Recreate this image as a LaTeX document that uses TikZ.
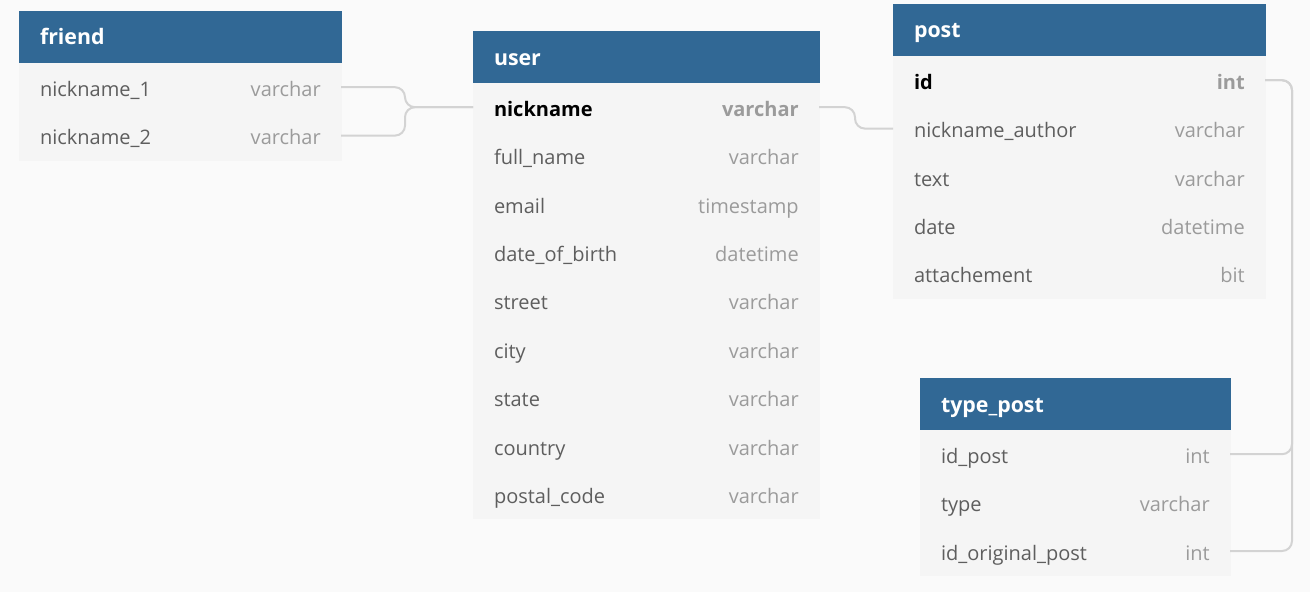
\documentclass[tikz,border=0pt]{standalone}
\usepackage{fontspec}
\setmainfont{Open Sans}
\usetikzlibrary{positioning}
\definecolor{headblue}{HTML}{316895}
\definecolor{rowgray}{HTML}{F5F5F5}
\definecolor{pagegray}{HTML}{FAFAFA}
\definecolor{namegray}{HTML}{5E5E5E}
\definecolor{typegray}{HTML}{9B9B9B}
\definecolor{linkgray}{HTML}{D3D3D3}

\begin{document}
\begin{tikzpicture}[x=0.75pt,y=-0.75pt,
	every node/.style={font=\fontsize{15}{18}\selectfont,text height=15pt,text depth=1.5pt},
	tablehead/.style={fill=headblue,draw=headblue,line width=0.4pt,outer sep=0pt,text=white,font=\fontsize{16}{19}\selectfont\bfseries,text height=13.5pt,text depth=1.5pt,minimum height=39pt,inner xsep=15.75pt,text width=#1,align=left,anchor=north west},
	field/.style={fill=rowgray,draw=rowgray,line width=0.4pt,outer sep=0pt,text=namegray,minimum height=36.3pt,inner xsep=15.75pt,text width=#1,align=left},
	fieldtype/.style={anchor=east,text=typegray,inner xsep=15pt},
	keyfield/.style={text=black,font=\fontsize{15}{18}\selectfont\bfseries},
	link/.style={draw=linkgray,line width=1.5pt,rounded corners=7.5pt}]
		\fill[pagegray] (0,0) rectangle (1310,592);
		\useasboundingbox (0,0) rectangle (1310,592);
		\node[tablehead=210pt] (friend) at (19,11) {friend};
		\node[field=210pt,below=0pt of friend,label={[fieldtype]east:varchar}] (friend-n1) {nickname\_1};
		\node[field=210pt,below=0pt of friend-n1,label={[fieldtype]east:varchar}] (friend-n2) {nickname\_2};
		\node[tablehead=228pt] (user) at (473,31) {user};
		\node[field=228pt,keyfield,below=0pt of user,label={[fieldtype,font=\fontsize{15}{18}\selectfont\bfseries]east:varchar}] (user-nick) {nickname};
		\node[field=228pt,below=0pt of user-nick,label={[fieldtype]east:varchar}] (user-name) {full\_name};
		\node[field=228pt,below=0pt of user-name,label={[fieldtype]east:timestamp}] (user-mail) {email};
		\node[field=228pt,below=0pt of user-mail,label={[fieldtype]east:datetime}] (user-birth) {date\_of\_birth};
		\node[field=228pt,below=0pt of user-birth,label={[fieldtype]east:varchar}] (user-street) {street};
		\node[field=228pt,below=0pt of user-street,label={[fieldtype]east:varchar}] (user-city) {city};
		\node[field=228pt,below=0pt of user-city,label={[fieldtype]east:varchar}] (user-state) {state};
		\node[field=228pt,below=0pt of user-state,label={[fieldtype]east:varchar}] (user-country) {country};
		\node[field=228pt,below=0pt of user-country,label={[fieldtype]east:varchar}] (user-zip) {postal\_code};
		\node[tablehead=247.5pt] (post) at (893,4) {post};
		\node[field=247.5pt,keyfield,below=0pt of post,label={[fieldtype,font=\fontsize{15}{18}\selectfont\bfseries]east:int}] (post-id) {id};
		\node[field=247.5pt,below=0pt of post-id,label={[fieldtype]east:varchar}] (post-author) {nickname\_author};
		\node[field=247.5pt,below=0pt of post-author,label={[fieldtype]east:varchar}] (post-text) {text};
		\node[field=247.5pt,below=0pt of post-text,label={[fieldtype]east:datetime}] (post-date) {date};
		\node[field=247.5pt,below=0pt of post-date,label={[fieldtype]east:bit}] (post-attach) {attachement};
		\node[tablehead=201pt] (tp) at (920,378) {type\_post};
		\node[field=201pt,below=0pt of tp,label={[fieldtype]east:int}] (tp-id) {id\_post};
		\node[field=201pt,below=0pt of tp-id,label={[fieldtype]east:varchar}] (tp-type) {type};
		\node[field=201pt,below=0pt of tp-type,label={[fieldtype]east:int}] (tp-orig) {id\_original\_post};
		\draw[link] (friend-n1.east) -- ++(64,0) |- (user-nick.west);
		\draw[link] (friend-n2.east) -- ++(64,0) |- (user-nick.west);
		\draw[link] (user-nick.east) -- ++(36,0) |- (post-author.west);
		\draw[link] (post-id.east) -- ++(27,0) |- (tp-id.east);
		\draw[link] (post-id.east) -- ++(27,0) |- (tp-orig.east);
	\end{tikzpicture}
\end{document}
